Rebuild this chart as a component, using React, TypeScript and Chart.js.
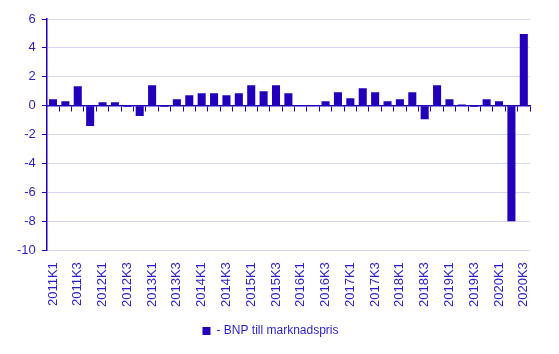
import React, { useEffect, useRef } from "react";
import { Chart, registerables } from "chart.js";

Chart.register(...registerables);

const categories: string[] = [
  "2011K1", "2011K2", "2011K3", "2011K4",
  "2012K1", "2012K2", "2012K3", "2012K4",
  "2013K1", "2013K2", "2013K3", "2013K4",
  "2014K1", "2014K2", "2014K3", "2014K4",
  "2015K1", "2015K2", "2015K3", "2015K4",
  "2016K1", "2016K2", "2016K3", "2016K4",
  "2017K1", "2017K2", "2017K3", "2017K4",
  "2018K1", "2018K2", "2018K3", "2018K4",
  "2019K1", "2019K2", "2019K3", "2019K4",
  "2020K1", "2020K2", "2020K3",
];

const bnpValues: number[] = [
  0.44, 0.3, 1.34, -1.41,
  0.23, 0.23, -0.09, -0.72,
  1.41, -0.09, 0.44, 0.72,
  0.86, 0.86, 0.72, 0.86,
  1.41, 1.0, 1.41, 0.86,
  0.0, 0.0, 0.3, 0.93,
  0.51, 1.2, 0.93, 0.3,
  0.44, 0.93, -0.93, 1.41,
  0.44, 0.09, -0.09, 0.44,
  0.3, -8.0, 4.97,
];

const seriesLabel = "- BNP till marknadspris";
const yTicks = { min: -10, max: 6, step: 2 };

const BAR = "#2200bb";
const TEXT = "#2a1ecc";
const GRID = "#d6d4f0";
const FONT = "'Liberation Sans', Arial, sans-serif";

export default function App() {
  const ref = useRef<HTMLCanvasElement | null>(null);

  useEffect(() => {
    document.body.style.margin = "0";
    const ctx = ref.current!;
    const chart = new Chart(ctx, {
      type: "bar",
      data: {
        labels: categories,
        datasets: [
          {
            label: seriesLabel,
            data: bnpValues,
            backgroundColor: BAR,
            borderWidth: 0,
            barPercentage: 0.65,
            categoryPercentage: 1,
            xAxisID: "x",
          },
        ],
      },
      options: {
        animation: false,
        responsive: false,
        maintainAspectRatio: false,
        layout: { padding: { top: 19, right: 29, left: 11, bottom: 7 } },
        font: { family: FONT, size: 12 },
        plugins: {
          tooltip: { enabled: false },
          legend: {
            position: "bottom",
            labels: {
              color: TEXT,
              boxWidth: 8,
              boxHeight: 8,
              padding: 14,
              font: { family: FONT, size: 12 },
            },
          },
        },
        scales: {
          x: {
            type: "category",
            position: "bottom",
            offset: true,
            grid: { display: false },
            border: { display: false },
            ticks: {
              autoSkip: false,
              minRotation: 90,
              maxRotation: 90,
              color: TEXT,
              padding: 4,
              font: { family: FONT, size: 13 },
              callback: function (this: any, _v: any, i: number) {
                return i % 2 === 0 ? categories[i] : "";
              },
            },
          },
          x0: {
            type: "category",
            axis: "x",
            position: { y: 0 } as any,
            offset: true,
            grid: {
              drawOnChartArea: false,
              offset: true,
              tickLength: 5,
              color: BAR,
              tickColor: BAR,
            },
            border: { display: true, color: BAR, width: 1.5 },
            ticks: { display: false },
          },
          y: {
            min: yTicks.min,
            max: yTicks.max,
            ticks: {
              stepSize: yTicks.step,
              color: TEXT,
              padding: 6,
              font: { family: FONT, size: 13 },
            },
            grid: {
              color: GRID,
              tickColor: BAR,
              tickLength: 5,
            },
            border: { display: true, color: BAR, width: 1.5 },
          },
        },
      } as any,
    });
    return () => chart.destroy();
  }, []);

  return (
    <div style={{ width: 559, height: 354 }}>
      <canvas ref={ref} width={559} height={354} style={{ display: "block" }} />
    </div>
  );
}
